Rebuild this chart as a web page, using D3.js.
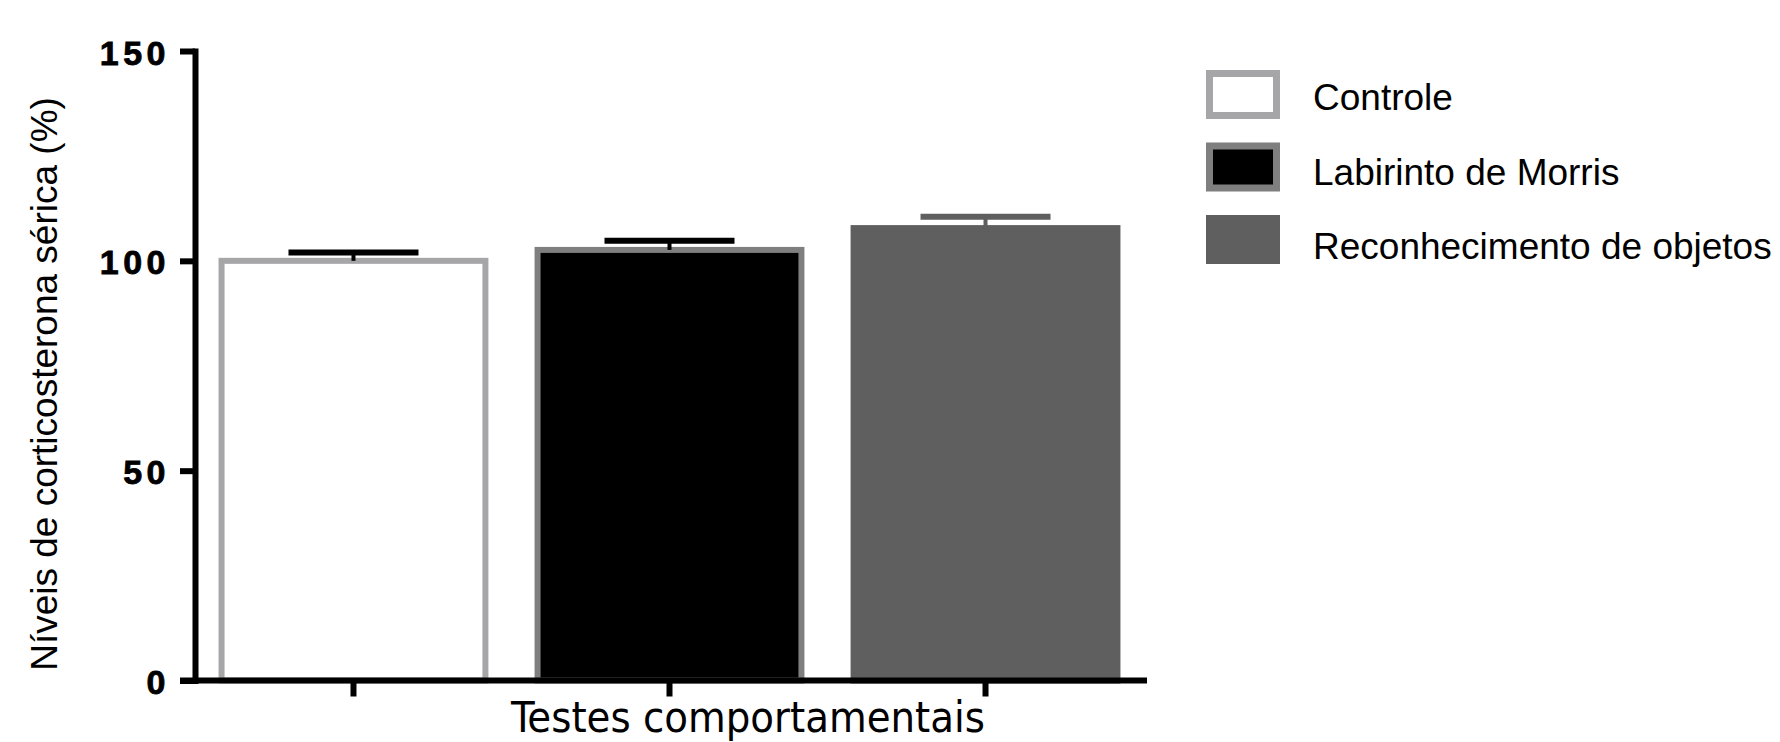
<!DOCTYPE html>
<html>
<head>
<meta charset="utf-8">
<script src="https://cdn.jsdelivr.net/npm/d3@7"></script>
<style>
  html, body { margin: 0; padding: 0; background: #ffffff; }
  svg { display: block; }
</style>
</head>
<body>
<svg id="chart" width="1780" height="742"></svg>
<script>
// ---- data ----
const categories = ["Controle", "Labirinto de Morris", "Reconhecimento de objetos"];
const means = [100, 102.6, 107.8];
const sems = [2.0, 2.2, 2.7];
const yTicks = [0, 50, 100, 150];
const xTitle = "Testes comportamentais";
const yTitle = "Níveis de corticosterona sérica (%)";

// ---- styles ----
const fillColor = d3.scaleOrdinal().domain(categories).range(["#ffffff", "#000000", "#5f5f5f"]);
const strokeColor = d3.scaleOrdinal().domain(categories).range(["#a6a6a9", "#7f7f7f", "#5f5f5f"]);
const capColor = d3.scaleOrdinal().domain(categories).range(["#000000", "#000000", "#5f5f5f"]);

const svg = d3.select("#chart");

const y = d3.scaleLinear().domain([0, 150]).range([680.5, 51]);
const x = d3.scaleBand().domain(categories).range([192, 1147])
  .paddingInner(0.165).paddingOuter(0.0935).align(0.5);

const rows = categories.map((c, i) => ({ cat: c, mean: means[i], sem: sems[i] }));

// bars
svg.append("g").selectAll("rect").data(rows).join("rect")
  .attr("x", d => x(d.cat))
  .attr("y", d => y(d.mean))
  .attr("width", x.bandwidth())
  .attr("height", d => y(0) - y(d.mean))
  .attr("fill", d => fillColor(d.cat))
  .attr("stroke", d => strokeColor(d.cat))
  .attr("stroke-width", 6);

// error bars (upper only)
const eb = svg.append("g").selectAll("g").data(rows).join("g");
eb.append("line")
  .attr("x1", d => x(d.cat) + x.bandwidth() / 2)
  .attr("x2", d => x(d.cat) + x.bandwidth() / 2)
  .attr("y1", d => y(d.mean))
  .attr("y2", d => y(d.mean + d.sem))
  .attr("stroke", d => capColor(d.cat))
  .attr("stroke-width", 4);
eb.append("line")
  .attr("x1", d => x(d.cat) + x.bandwidth() / 2 - 65)
  .attr("x2", d => x(d.cat) + x.bandwidth() / 2 + 65)
  .attr("y1", d => y(d.mean + d.sem))
  .attr("y2", d => y(d.mean + d.sem))
  .attr("stroke", d => capColor(d.cat))
  .attr("stroke-width", 6);

// x axis
const gx = svg.append("g").attr("transform", `translate(0,${y(0)})`)
  .call(d3.axisBottom(x).tickSize(16).tickSizeOuter(0).tickFormat(""));
gx.select(".domain").remove();
gx.selectAll(".tick line").attr("stroke", "#000").attr("stroke-width", 6);
svg.append("line")
  .attr("x1", 180).attr("x2", x.range()[1])
  .attr("y1", y(0)).attr("y2", y(0))
  .attr("stroke", "#000").attr("stroke-width", 6);

// y axis
const gy = svg.append("g").attr("transform", `translate(195,0)`)
  .call(d3.axisLeft(y).tickValues(yTicks).tickSize(15).tickSizeOuter(0).tickPadding(10));
gy.attr("font-size", 34).attr("font-family", "'Liberation Sans', Arial, sans-serif").attr("font-weight", "bold");
gy.select(".domain").attr("stroke", "#000").attr("stroke-width", 6).attr("stroke-linecap", "square");
gy.selectAll(".tick line").attr("stroke", "#000").attr("stroke-width", 6);
gy.selectAll(".tick text")
  .attr("fill", "#000")
  .attr("stroke", "#000")
  .attr("stroke-width", 0.8)
  .attr("dy", null)
  .attr("y", 13)
  .attr("font-size", 34)
  .attr("font-weight", "bold")
  .attr("letter-spacing", 4.5);

// axis titles
svg.append("text")
  .attr("x", 511).attr("y", 732)
  .attr("textLength", 474).attr("lengthAdjust", "spacingAndGlyphs")
  .attr("font-family", "'Liberation Sans Narrow', 'DejaVu Sans Condensed', 'Open Sans', sans-serif")
  .attr("font-size", 42)
  .attr("fill", "#000")
  .text(xTitle);

svg.append("text")
  .attr("transform", "translate(57,384) rotate(-90)")
  .attr("text-anchor", "middle")
  .attr("font-family", "'Liberation Sans', Arial, sans-serif")
  .attr("font-size", 37)
  .attr("fill", "#000")
  .text(yTitle);

// legend
const ly = d3.scaleLinear().domain([0, 2]).range([70, 215]);
const lg = svg.append("g").selectAll("g").data(categories).join("g");
lg.append("rect")
  .attr("x", 1209.5)
  .attr("y", (d, i) => ly(i) + 3.5)
  .attr("width", 67)
  .attr("height", 42)
  .attr("fill", d => fillColor(d))
  .attr("stroke", d => strokeColor(d))
  .attr("stroke-width", 7);
lg.append("text")
  .attr("x", 1313)
  .attr("y", (d, i) => ly(i) + 40 + i * 2)
  .attr("font-family", "'Liberation Sans', Arial, sans-serif")
  .attr("font-size", 37)
  .attr("fill", "#000")
  .text(d => d);
</script>
</body>
</html>
